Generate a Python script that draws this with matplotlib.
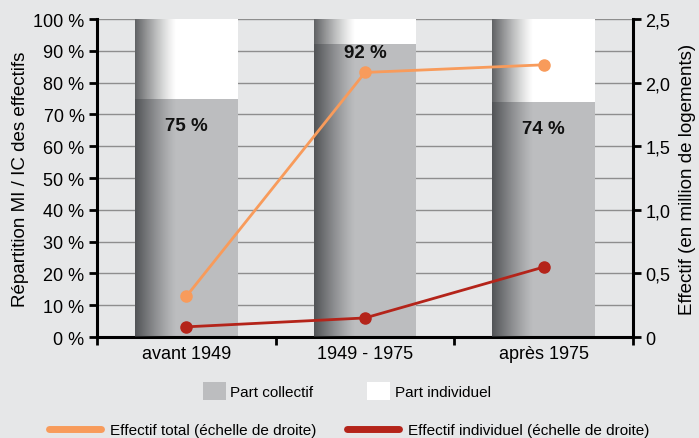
import numpy as np
import matplotlib
matplotlib.use('Agg')
import matplotlib.pyplot as plt
from matplotlib.patches import Patch
from matplotlib.lines import Line2D

plt.rcParams['font.family'] = ['Liberation Sans', 'DejaVu Sans']

# données
periodes = ['avant 1949', '1949 - 1975', 'après 1975']
part_collectif = [75, 92, 74]
effectif_total = [0.32, 2.08, 2.14]
effectif_individuel = [0.08, 0.15, 0.55]
pct_labels = ['75 %', '92 %', '74 %']

bg = '#e6e7e8'
gris = '#bcbdbf'
orange = '#f89b5b'
rouge = '#b4241a'

fig = plt.figure(figsize=(6.99, 4.39), dpi=100, facecolor=bg)
ax = fig.add_axes([0.1388, 0.230, 0.7668, 0.7244])
ax.set_facecolor(bg)

x = np.arange(len(periodes))
w = 0.575
part_indiv = [100 - v for v in part_collectif]
ax.bar(x, part_collectif, w, color=gris, zorder=2)
ax.bar(x, part_indiv, w, bottom=part_collectif, color='white', zorder=2)

# dégradé sombre sur la gauche des barres
n = 200
t = np.linspace(0, 1, n)
alpha = np.clip(1 - t / 0.40, 0, 1) ** 1.2 * 0.78
grad = np.zeros((1, n, 4))
grad[0, :, 0] = 0.20
grad[0, :, 1] = 0.21
grad[0, :, 2] = 0.22
grad[0, :, 3] = alpha
for xi in x:
    ax.imshow(grad, extent=[xi - w / 2, xi + w / 2, 0, 100], aspect='auto',
              interpolation='bilinear', zorder=3)

# étiquettes en %
lab_y = [v - 8.5 for v in part_collectif]
lab_y[1] = part_collectif[1] - 2.5
for xi, yv, s in zip(x, lab_y, pct_labels):
    ax.text(xi, yv, s, ha='center', va='center', fontsize=13.5,
            fontweight='bold', color='#111111', zorder=6)

ax.set_xlim(-0.5, 2.5)
ax.set_ylim(0, 100)
ax.set_yticks(np.arange(0, 101, 10))
ax.set_yticklabels([f'{v} %' for v in range(0, 101, 10)])
for v in range(10, 101, 10):
    ax.axhline(v, color='#8e8e8e', lw=1, zorder=1)
ax.set_xticks(x)
ax.set_xticklabels(periodes)
ax.set_xticks([-0.5, 0.5, 1.5, 2.5], minor=True)
ax.tick_params(axis='x', which='major', length=0, pad=6, labelsize=13)
ax.tick_params(axis='x', which='minor', length=6, width=2, direction='out')
ax.tick_params(axis='y', length=6, width=2, labelsize=13, pad=3)
ax.set_ylabel('Répartition MI / IC des effectifs', fontsize=13.5, labelpad=3)
for s in ['top', 'right']:
    ax.spines[s].set_visible(False)
for s in ['left', 'bottom']:
    ax.spines[s].set_linewidth(2.2)

ax2 = ax.twinx()
ax2.plot(x, effectif_total, color=orange, lw=2, marker='o', ms=8, zorder=5)
ax2.plot(x, effectif_individuel, color=rouge, lw=2, marker='o', ms=8, zorder=5)
ax2.set_ylim(0, 2.5)
ax2.set_yticks(np.arange(0, 2.51, 0.5))
ax2.set_yticklabels(['0', '0,5', '1,0', '1,5', '2,0', '2,5'])
ax2.tick_params(axis='y', length=6, width=2, labelsize=13, pad=3)
ax2.set_ylabel('Effectif (en million de logements)', fontsize=13.5, labelpad=6)
for s in ['top', 'left', 'bottom']:
    ax2.spines[s].set_visible(False)
ax2.spines['right'].set_linewidth(2.2)

# légendes
h1 = [Patch(facecolor=gris, edgecolor='none', label='Part collectif'),
      Patch(facecolor='white', edgecolor='none', label='Part individuel')]
fig.legend(handles=h1, loc='center', bbox_to_anchor=(0.496, 0.107), ncol=2,
           frameon=False, fontsize=11, handlelength=1.5, handleheight=1.5,
           handletextpad=0.3, columnspacing=3.5)
h2 = [Line2D([], [], color=orange, lw=5, solid_capstyle='round',
             label='Effectif total (échelle de droite)'),
      Line2D([], [], color=rouge, lw=5, solid_capstyle='round',
             label='Effectif individuel (échelle de droite)')]
fig.legend(handles=h2, loc='center', bbox_to_anchor=(0.5, 0.018), ncol=2,
           frameon=False, fontsize=11, handlelength=3.4,
           handletextpad=0.6, columnspacing=2.0)

fig.savefig('out.png', dpi=100, facecolor=bg)
